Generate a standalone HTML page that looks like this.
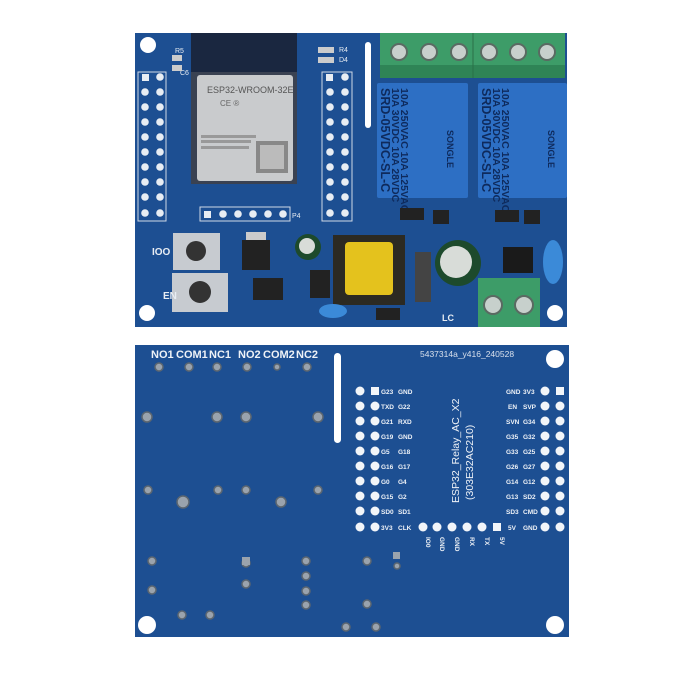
<!DOCTYPE html>
<html><head><meta charset="utf-8"><style>
html,body{margin:0;padding:0;background:#fff;width:700px;height:700px;overflow:hidden}
svg{display:block}
text{font-family:"Liberation Sans",sans-serif}
</style></head><body>
<svg width="700" height="700" viewBox="0 0 700 700" xmlns="http://www.w3.org/2000/svg">
<rect width="700" height="700" fill="#fff"/>
<!-- TOP BOARD -->
<rect x="135" y="33" width="432" height="294" fill="#1d4f92"/>
<circle cx="148" cy="45" r="8" fill="#fff"/>
<circle cx="147" cy="313" r="8" fill="#fff"/>
<circle cx="555" cy="313" r="8" fill="#fff"/>
<!-- ESP32 -->
<rect x="191" y="33" width="106" height="42" fill="#1a2740"/>
<rect x="191" y="72" width="106" height="112" fill="#3a4252"/>
<rect x="197" y="75" width="96" height="106" rx="3" fill="#c9cbcd"/>
<text x="207" y="93" font-size="9" fill="#555">ESP32-WROOM-32E</text>
<text x="220" y="106" font-size="8" fill="#666">CE ®</text>
<rect x="201" y="135" width="55" height="3" fill="#999"/><rect x="201" y="140" width="50" height="3" fill="#999"/><rect x="201" y="146" width="48" height="3" fill="#999"/>
<rect x="256" y="141" width="32" height="32" fill="#888"/>
<rect x="260" y="145" width="24" height="24" fill="#bbb"/>
<!-- headers -->
<rect x="138" y="72" width="28" height="149" fill="none" stroke="#cfd8e6" stroke-width="1"/>
<rect x="322" y="72" width="30" height="149" fill="none" stroke="#cfd8e6" stroke-width="1"/>
<g fill="#e8edf3">
<rect x="142" y="74" width="7" height="7"/><circle cx="160" cy="77" r="3.8"/>
<circle cx="145" cy="92" r="3.8"/><circle cx="160" cy="92" r="3.8"/>
<circle cx="145" cy="107" r="3.8"/><circle cx="160" cy="107" r="3.8"/>
<circle cx="145" cy="122" r="3.8"/><circle cx="160" cy="122" r="3.8"/>
<circle cx="145" cy="137" r="3.8"/><circle cx="160" cy="137" r="3.8"/>
<circle cx="145" cy="152" r="3.8"/><circle cx="160" cy="152" r="3.8"/>
<circle cx="145" cy="167" r="3.8"/><circle cx="160" cy="167" r="3.8"/>
<circle cx="145" cy="182" r="3.8"/><circle cx="160" cy="182" r="3.8"/>
<circle cx="145" cy="197" r="3.8"/><circle cx="160" cy="197" r="3.8"/>
<circle cx="145" cy="213" r="3.8"/><circle cx="160" cy="213" r="3.8"/>
<rect x="326" y="74" width="7" height="7"/><circle cx="345" cy="77" r="3.8"/>
<circle cx="330" cy="92" r="3.8"/><circle cx="345" cy="92" r="3.8"/>
<circle cx="330" cy="107" r="3.8"/><circle cx="345" cy="107" r="3.8"/>
<circle cx="330" cy="122" r="3.8"/><circle cx="345" cy="122" r="3.8"/>
<circle cx="330" cy="137" r="3.8"/><circle cx="345" cy="137" r="3.8"/>
<circle cx="330" cy="152" r="3.8"/><circle cx="345" cy="152" r="3.8"/>
<circle cx="330" cy="167" r="3.8"/><circle cx="345" cy="167" r="3.8"/>
<circle cx="330" cy="182" r="3.8"/><circle cx="345" cy="182" r="3.8"/>
<circle cx="330" cy="197" r="3.8"/><circle cx="345" cy="197" r="3.8"/>
<circle cx="330" cy="213" r="3.8"/><circle cx="345" cy="213" r="3.8"/>
<rect x="204" y="211" width="7" height="7"/><circle cx="223" cy="214" r="3.8"/><circle cx="238" cy="214" r="3.8"/><circle cx="253" cy="214" r="3.8"/><circle cx="268" cy="214" r="3.8"/><circle cx="283" cy="214" r="3.8"/>
</g>
<rect x="200" y="207" width="90" height="14" fill="none" stroke="#cfd8e6"/>
<text x="292" y="218" font-size="7" fill="#e8edf3">P4</text>
<text x="175" y="53" font-size="7" fill="#e8edf3">R5</text>
<text x="180" y="75" font-size="7" fill="#e8edf3">C6</text>
<text x="339" y="52" font-size="7" fill="#e8edf3">R4</text>
<text x="339" y="62" font-size="7" fill="#e8edf3">D4</text>
<rect x="318" y="47" width="16" height="6" fill="#ccc"/><rect x="318" y="57" width="16" height="6" fill="#ccc"/>
<rect x="172" y="55" width="10" height="6" fill="#ccc"/><rect x="172" y="65" width="10" height="6" fill="#ccc"/>
<!-- slot -->
<rect x="365" y="42" width="6" height="86" rx="3" fill="#fff"/>
<!-- terminal top -->
<rect x="380" y="33" width="185" height="45" fill="#3d9c68"/>
<rect x="380" y="65" width="185" height="13" fill="#2f8456"/>
<line x1="473" y1="33" x2="473" y2="78" stroke="#2a7048"/>
<g fill="#c7d0cc" stroke="#5a6a62" stroke-width="2">
<circle cx="399" cy="52" r="8"/><circle cx="429" cy="52" r="8"/><circle cx="459" cy="52" r="8"/>
<circle cx="489" cy="52" r="8"/><circle cx="518" cy="52" r="8"/><circle cx="547" cy="52" r="8"/>
</g>
<!-- relays -->
<rect x="377" y="83" width="91" height="115" rx="2" fill="#2d6fc4"/>
<rect x="478" y="83" width="89" height="115" rx="2" fill="#2d6fc4"/>
<g fill="#0e2a5c" font-size="10.5" font-weight="bold">
<text transform="translate(381,88) rotate(90)" font-size="12.5">SRD-05VDC-SL-C</text>
<text transform="translate(392,88) rotate(90)">10A  30VDC 10A  28VDC</text>
<text transform="translate(401,88) rotate(90)">10A 250VAC 10A 125VAC</text>
<text transform="translate(482,88) rotate(90)" font-size="12.5">SRD-05VDC-SL-C</text>
<text transform="translate(493,88) rotate(90)">10A  30VDC 10A  28VDC</text>
<text transform="translate(502,88) rotate(90)">10A 250VAC 10A 125VAC</text>
<text transform="translate(447,130) rotate(90)" font-size="9">SONGLE</text>
<text transform="translate(548,130) rotate(90)" font-size="9">SONGLE</text>
</g>
<!-- components -->
<rect x="333" y="235" width="72" height="70" fill="#2c2a22"/>
<rect x="345" y="242" width="48" height="53" rx="4" fill="#e4c21d"/>
<circle cx="458" cy="263" r="23" fill="#1d4a2c"/>
<circle cx="456" cy="262" r="16" fill="#d8dcd8"/>
<circle cx="308" cy="247" r="13" fill="#1d4a2c"/>
<circle cx="307" cy="246" r="8" fill="#d8dcd8"/>
<rect x="478" y="278" width="62" height="49" fill="#3d9c68"/>
<circle cx="493" cy="305" r="9" fill="#c7d0cc" stroke="#5a6a62" stroke-width="2"/>
<circle cx="524" cy="305" r="9" fill="#c7d0cc" stroke="#5a6a62" stroke-width="2"/>
<rect x="173" y="233" width="47" height="37" fill="#c7cbd0"/>
<circle cx="196" cy="251" r="10" fill="#333"/>
<rect x="172" y="273" width="56" height="39" fill="#c7cbd0"/>
<circle cx="200" cy="292" r="11" fill="#333"/>
<text x="152" y="255" font-size="10" fill="#e8edf3" font-weight="bold">IOO</text>
<text x="163" y="299" font-size="10" fill="#e8edf3" font-weight="bold">EN</text>
<ellipse cx="553" cy="262" rx="10" ry="22" fill="#3b8ad8"/>
<ellipse cx="333" cy="311" rx="14" ry="7" fill="#3b8ad8"/>
<rect x="242" y="240" width="28" height="30" fill="#222"/><rect x="246" y="232" width="20" height="8" fill="#ccc"/>
<rect x="503" y="247" width="30" height="26" fill="#1a1a1a"/>
<rect x="310" y="270" width="20" height="28" fill="#222"/>
<rect x="415" y="252" width="16" height="50" fill="#444"/>
<rect x="400" y="208" width="24" height="12" fill="#222"/><rect x="495" y="210" width="24" height="12" fill="#222"/>
<rect x="524" y="210" width="16" height="14" fill="#222"/><rect x="433" y="210" width="16" height="14" fill="#222"/>
<rect x="376" y="308" width="24" height="12" fill="#222"/>
<rect x="253" y="278" width="30" height="22" fill="#222"/>
<text x="442" y="321" font-size="9" fill="#e8edf3" font-weight="bold">LC</text>

<!-- BOTTOM BOARD -->
<rect x="135" y="345" width="434" height="292" fill="#1d4f92"/>
<circle cx="555" cy="359" r="9" fill="#fff"/>
<circle cx="147" cy="625" r="9" fill="#fff"/>
<circle cx="555" cy="625" r="9" fill="#fff"/>
<rect x="334" y="353" width="7" height="90" rx="3.5" fill="#fff"/>
<g fill="#eef2f7" font-size="11" font-weight="bold">
<text x="151" y="358">NO1</text><text x="176" y="358">COM1</text><text x="209" y="358">NC1</text>
<text x="238" y="358">NO2</text><text x="263" y="358">COM2</text><text x="296" y="358">NC2</text>
</g>
<text x="420" y="357" font-size="8.5" fill="#d8e0ec" font-family="Liberation Mono,monospace">5437314a_y416_240528</text>
<g fill="#9aa3ad" stroke="#5c6670" stroke-width="1.5">
<circle cx="159" cy="367" r="4"/><circle cx="189" cy="367" r="4"/><circle cx="217" cy="367" r="4"/><circle cx="247" cy="367" r="4"/><circle cx="277" cy="367" r="3"/><circle cx="307" cy="367" r="4"/>
<circle cx="147" cy="417" r="5"/><circle cx="217" cy="417" r="5"/><circle cx="246" cy="417" r="5"/><circle cx="318" cy="417" r="5"/>
<circle cx="148" cy="490" r="4"/><circle cx="218" cy="490" r="4"/><circle cx="246" cy="490" r="4"/><circle cx="318" cy="490" r="4"/>
<circle cx="183" cy="502" r="6"/><circle cx="281" cy="502" r="5"/>
<circle cx="152" cy="561" r="4"/><circle cx="152" cy="590" r="4"/><circle cx="246" cy="584" r="4"/><circle cx="246" cy="563" r="4"/>
<circle cx="306" cy="561" r="4"/><circle cx="306" cy="576" r="4"/><circle cx="306" cy="591" r="4"/><circle cx="306" cy="605" r="4"/>
<circle cx="367" cy="561" r="4"/><circle cx="367" cy="604" r="4"/><circle cx="397" cy="566" r="3"/>
<circle cx="182" cy="615" r="4"/><circle cx="210" cy="615" r="4"/><circle cx="346" cy="627" r="4"/><circle cx="376" cy="627" r="4"/>
</g>
<rect x="393" y="552" width="7" height="7" fill="#9aa3ad"/><rect x="242" y="557" width="8" height="8" fill="#9aa3ad"/>
<g fill="#f2f5f9">
<circle cx="360" cy="391" r="4.5"/><rect x="371" y="387" width="8" height="8"/>
<circle cx="360" cy="406" r="4.5"/><circle cx="375" cy="406" r="4.5"/>
<circle cx="360" cy="421" r="4.5"/><circle cx="375" cy="421" r="4.5"/>
<circle cx="360" cy="436" r="4.5"/><circle cx="375" cy="436" r="4.5"/>
<circle cx="360" cy="451" r="4.5"/><circle cx="375" cy="451" r="4.5"/>
<circle cx="360" cy="466" r="4.5"/><circle cx="375" cy="466" r="4.5"/>
<circle cx="360" cy="481" r="4.5"/><circle cx="375" cy="481" r="4.5"/>
<circle cx="360" cy="496" r="4.5"/><circle cx="375" cy="496" r="4.5"/>
<circle cx="360" cy="511" r="4.5"/><circle cx="375" cy="511" r="4.5"/>
<circle cx="360" cy="527" r="4.5"/><circle cx="375" cy="527" r="4.5"/>
<circle cx="545" cy="391" r="4.5"/><rect x="556" y="387" width="8" height="8"/>
<circle cx="545" cy="406" r="4.5"/><circle cx="560" cy="406" r="4.5"/>
<circle cx="545" cy="421" r="4.5"/><circle cx="560" cy="421" r="4.5"/>
<circle cx="545" cy="436" r="4.5"/><circle cx="560" cy="436" r="4.5"/>
<circle cx="545" cy="451" r="4.5"/><circle cx="560" cy="451" r="4.5"/>
<circle cx="545" cy="466" r="4.5"/><circle cx="560" cy="466" r="4.5"/>
<circle cx="545" cy="481" r="4.5"/><circle cx="560" cy="481" r="4.5"/>
<circle cx="545" cy="496" r="4.5"/><circle cx="560" cy="496" r="4.5"/>
<circle cx="545" cy="511" r="4.5"/><circle cx="560" cy="511" r="4.5"/>
<circle cx="545" cy="527" r="4.5"/><circle cx="560" cy="527" r="4.5"/>
<circle cx="423" cy="527" r="4.5"/><circle cx="437" cy="527" r="4.5"/><circle cx="452" cy="527" r="4.5"/><circle cx="467" cy="527" r="4.5"/><circle cx="482" cy="527" r="4.5"/><rect x="493" y="523" width="8" height="8"/>
</g>
<g fill="#eef2f7" font-size="6.5" font-weight="bold">
<text x="381" y="394">G23</text><text x="398" y="394">GND</text>
<text x="381" y="409">TXD</text><text x="398" y="409">G22</text>
<text x="381" y="424">G21</text><text x="398" y="424">RXD</text>
<text x="381" y="439">G19</text><text x="398" y="439">GND</text>
<text x="381" y="454">G5</text><text x="398" y="454">G18</text>
<text x="381" y="469">G16</text><text x="398" y="469">G17</text>
<text x="381" y="484">G0</text><text x="398" y="484">G4</text>
<text x="381" y="499">G15</text><text x="398" y="499">G2</text>
<text x="381" y="514">SD0</text><text x="398" y="514">SD1</text>
<text x="381" y="530">3V3</text><text x="398" y="530">CLK</text>
<text x="506" y="394">GND</text><text x="523" y="394">3V3</text>
<text x="508" y="409">EN</text><text x="523" y="409">SVP</text>
<text x="506" y="424">SVN</text><text x="523" y="424">G34</text>
<text x="506" y="439">G35</text><text x="523" y="439">G32</text>
<text x="506" y="454">G33</text><text x="523" y="454">G25</text>
<text x="506" y="469">G26</text><text x="523" y="469">G27</text>
<text x="506" y="484">G14</text><text x="523" y="484">G12</text>
<text x="506" y="499">G13</text><text x="523" y="499">SD2</text>
<text x="506" y="514">SD3</text><text x="523" y="514">CMD</text>
<text x="508" y="530">5V</text><text x="523" y="530">GND</text>
<text transform="translate(426,537) rotate(90)">IO0</text>
<text transform="translate(440,537) rotate(90)">GND</text>
<text transform="translate(455,537) rotate(90)">GND</text>
<text transform="translate(470,537) rotate(90)">RX</text>
<text transform="translate(485,537) rotate(90)">TX</text>
<text transform="translate(500,537) rotate(90)">5V</text>
</g>
<g fill="#eef2f7" font-size="10.5">
<text transform="translate(459,503) rotate(-90)">ESP32_Relay_AC_X2</text>
<text transform="translate(473,500) rotate(-90)">(303E32AC210)</text>
</g>
</svg>
</body></html>
